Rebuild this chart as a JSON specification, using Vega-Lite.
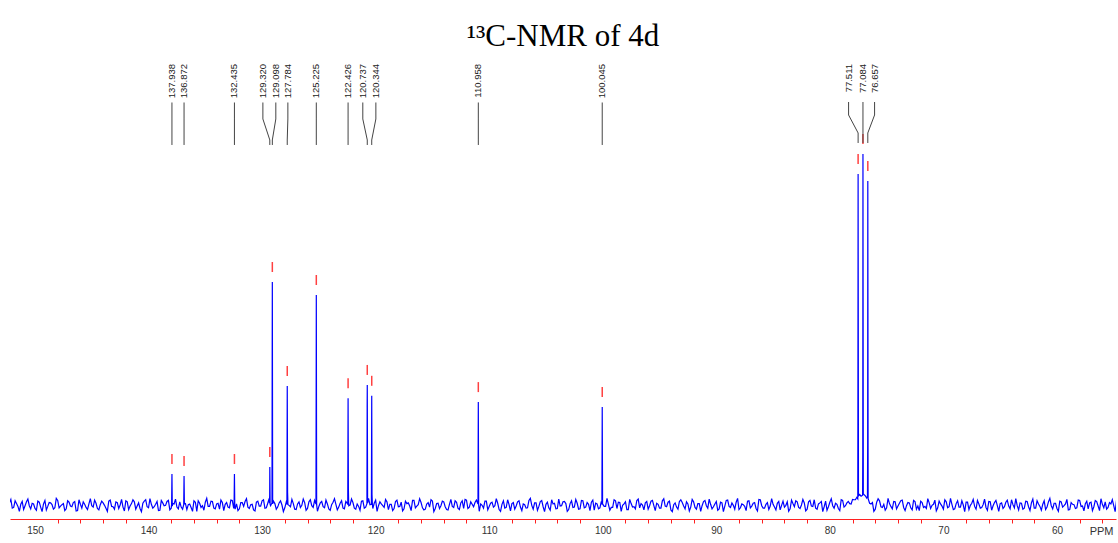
{
  "$schema": "https://vega.github.io/schema/vega-lite/v6.json",
  "width": 1106,
  "height": 459,
  "autosize": {"type": "none"},
  "padding": {"left": 10, "top": 60, "right": 2, "bottom": 24},
  "background": "white",
  "title": {"text": "¹³C-NMR of 4d", "font": "Liberation Serif", "fontSize": 31, "fontWeight": "normal", "color": "black", "anchor": "middle", "offset": 7},
  "config": {"view": {"stroke": null}},
  "resolve": {"axis": {"x": "independent"}},
  "datasets": {
    "peaks": [
      {"ppm": 137.938, "lp": 137.938, "h": 8.86},
      {"ppm": 136.872, "lp": 136.872, "h": 8.29},
      {"ppm": 132.435, "lp": 132.435, "h": 8.86},
      {"ppm": 129.320, "lp": 129.93, "h": 10.86},
      {"ppm": 129.098, "lp": 128.79, "h": 63.71},
      {"ppm": 127.784, "lp": 127.73, "h": 34.0},
      {"ppm": 125.225, "lp": 125.225, "h": 60.0},
      {"ppm": 122.426, "lp": 122.426, "h": 30.5},
      {"ppm": 120.737, "lp": 121.13, "h": 34.3},
      {"ppm": 120.344, "lp": 119.98, "h": 31.2},
      {"ppm": 110.958, "lp": 110.958, "h": 29.4},
      {"ppm": 100.045, "lp": 100.045, "h": 28.0},
      {"ppm": 77.511, "lp": 78.35, "h": 94.6},
      {"ppm": 77.084, "lp": 77.084, "h": 100.3},
      {"ppm": 76.657, "lp": 76.06, "h": 92.6}
    ]
  },
  "layer": [
    {
      "data": {
        "format": {"type": "csv"},
        "values": "p,i\n152.25,0.6\n152,-0.9\n151.75,1.2\n151.5,-0.4\n151.25,0.2\n151,-1.3\n150.75,0.9\n150.5,-0.2\n150.25,0.5\n150,-1.0\n149.75,1.1\n149.5,-0.6\n149.25,0.3\n149,-1.4\n148.75,0.7\n148.5,0.1\n148.25,-0.8\n148,1.3\n147.75,-0.3\n147.5,0.4\n147.25,-1.1\n147,0.8\n146.75,-0.5\n146.5,1.0\n146.25,-1.6\n146,0.2\n145.75,0.9\n145.5,-0.7\n145.25,0.3\n145,-0.2\n144.75,1.4\n144.5,-1.0\n144.25,0.1\n144,0.6\n143.75,-0.9\n143.5,1.1\n143.25,-0.4\n143,-1.2\n142.75,0.7\n142.5,0.0\n142.25,-0.6\n142,1.2\n141.75,-1.3\n141.5,0.4\n141.25,0.9\n141,-0.3\n140.75,-1.0\n140.5,0.5\n140.25,1.5\n140,-0.8\n139.75,0.2\n139.5,-0.5\n139.25,1.0\n139,-1.5\n138.75,0.6\n138.5,-0.1\n138.25,1.3\n138,-0.9\n137.75,0.3\n137.5,-0.6\n137.25,0.9\n137,-1.2\n136.75,0.4\n136.5,0.1\n136.25,-0.7\n136,1.2\n135.75,-1.8\n135.5,0.5\n135.25,-0.2\n135,0.8\n134.75,-0.4\n134.5,1.1\n134.25,-0.9\n134,0.3\n133.75,-1.2\n133.5,0.7\n133.25,0.2\n133,-0.6\n132.75,1.4\n132.5,-1.0\n132.25,0.3\n132,-1.1\n131.75,0.7\n131.5,1.0\n131.25,-0.6\n131,0.1\n130.75,-1.4\n130.5,0.8\n130.25,-0.3\n130,1.2\n129.75,-0.9\n129.5,0.5\n129.25,-0.2\n129,1.1\n128.75,-1.2\n128.5,0.6\n128.25,0.0\n128,-0.8\n127.5,-0.5\n127.25,0.4\n127,-1.3\n126.75,0.9\n126.5,-0.1\n126.25,0.7\n126,-1.0\n125.75,1.5\n125.5,-0.7\n125,-0.4\n124.75,1.0\n124.5,-0.8\n124.25,0.3\n124,-1.5\n123.75,0.8\n123.5,0.2\n123.25,-0.6\n123,1.2\n122.75,-1.1\n122.5,0.5\n122.25,0.0\n122,0.7\n121.75,-1.2\n121.5,-0.4\n121.25,1.1\n121,-0.9\n120.5,0.1\n120.25,-1.0\n120,1.4\n119.75,-0.2\n119.5,0.3\n119.25,-0.7\n119,0.9\n118.75,0.2\n118.5,-1.6\n118.25,1.0\n118,-0.5\n117.75,0.8\n117.5,-1.1\n117.25,0.4\n117,-0.3\n116.75,1.3\n116.5,-0.8\n116.25,0.1\n116,0.7\n115.75,-1.4\n115.5,0.3\n115.25,-0.6\n115,1.1\n114.75,-1.0\n114.5,0.5\n114.25,-0.2\n114,0.9\n113.75,-1.3\n113.5,0.2\n113.25,-0.4\n113,1.2\n112.75,-0.9\n112.5,0.6\n112.25,-1.0\n112,1.4\n111.75,-0.6\n111.5,0.2\n111.25,0.7\n110.75,0.3\n110.5,-0.9\n110.25,1.1\n110,-0.4\n109.75,0.8\n109.5,-0.2\n109.25,0.5\n109,-1.8\n108.75,1.2\n108.5,-0.7\n108.25,0.1\n108,0.4\n107.75,-1.2\n107.5,0.9\n107.25,-0.6\n107,0.3\n106.75,-0.9\n106.5,1.3\n106.25,-0.1\n106,0.6\n105.75,-1.5\n105.5,1.0\n105.25,-0.5\n105,0.2\n104.75,-0.8\n104.5,1.5\n104.25,0.5\n104,-1.0\n103.75,-0.3\n103.5,0.9\n103.25,0.4\n103,-1.3\n102.75,1.2\n102.5,-0.6\n102.25,0.5\n102,-1.1\n101.75,1.2\n101.5,-0.6\n101.25,0.2\n101,0.8\n100.75,-1.5\n100.5,0.3\n100.25,-0.8\n99.75,-0.4\n99.5,0.2\n99.25,-0.7\n99,1.5\n98.75,-1.0\n98.5,0.7\n98.25,-0.1\n98,0.9\n97.75,-1.3\n97.5,0.4\n97.25,-0.5\n97,1.3\n96.75,-0.8\n96.5,0.0\n96.25,0.6\n96,-1.2\n95.75,1.1\n95.5,-0.2\n95.25,0.5\n95,-0.9\n94.75,1.2\n94.5,-0.3\n94.25,0.8\n94,-1.4\n93.75,0.1\n93.5,-0.6\n93.25,1.0\n93,0.7\n92.75,-1.1\n92.5,0.3\n92.25,-0.6\n92,0.9\n91.75,-1.2\n91.5,0.4\n91.25,-0.2\n91,1.3\n90.75,-0.9\n90.5,0.2\n90.25,-0.5\n90,1.0\n89.75,-1.1\n89.5,0.6\n89.25,-0.3\n89,1.4\n88.75,-0.7\n88.5,-0.1\n88.25,0.8\n88,-1.3\n87.75,0.3\n87.5,-0.4\n87.25,1.1\n87,-0.8\n86.75,0.5\n86.5,-1.0\n86.25,1.6\n86,-0.2\n85.75,-0.9\n85.5,0.7\n85.25,-0.3\n85,0.2\n84.75,-1.4\n84.5,1.0\n84.25,-0.1\n84,-0.6\n83.75,0.9\n83.5,-1.1\n83.25,0.4\n83,1.2\n82.75,-0.7\n82.5,0.0\n82.25,0.6\n82,-1.2\n81.75,1.3\n81.5,-0.4\n81.25,-0.9\n81,0.3\n80.75,1.0\n80.5,-0.5\n80.25,-1.5\n80,0.8\n79.75,-0.2\n79.5,0.5\n79.25,-1.0\n79,1.5\n78.75,-0.6\n78.5,0.6\n78.25,0.4\n78,1.6\n77.75,1.5\n77.25,2.5\n77,3.0\n76.75,2.0\n76.5,0.5\n76.25,0.7\n76,-1.2\n75.75,1.8\n75.5,-0.5\n75.25,0.2\n75,-0.8\n74.75,0.4\n74.5,-1.1\n74.25,0.9\n74,-0.3\n73.75,1.2\n73.5,-0.7\n73.25,-0.2\n73,0.6\n72.75,-1.4\n72.5,1.0\n72.25,-0.3\n72,1.1\n71.75,-0.7\n71.5,-1.0\n71.25,0.6\n71,-0.1\n70.75,1.4\n70.5,-0.8\n70.25,0.3\n70,-1.2\n69.75,0.9\n69.5,-0.5\n69.25,0.2\n69,-1.1\n68.75,1.2\n68.5,-0.6\n68.25,0.0\n68,0.8\n67.75,-1.3\n67.5,0.5\n67.25,-0.4\n67,1.3\n66.75,-0.9\n66.5,0.1\n66.25,-0.7\n66,1.0\n65.75,-1.5\n65.5,0.7\n65.25,-0.2\n65,0.4\n64.75,-1.0\n64.5,0.8\n64.25,-0.3\n64,1.5\n63.75,-0.8\n63.5,-0.2\n63.25,0.6\n63,-1.2\n62.75,1.1\n62.5,-0.5\n62.25,0.6\n62,-0.9\n61.75,1.2\n61.5,-0.4\n61.25,0.2\n61,-1.3\n60.75,0.9\n60.5,-0.2\n60.25,0.5\n60,-1.0\n59.75,1.1\n59.5,-0.6\n59.25,0.3\n59,-1.4\n58.75,0.7\n58.5,0.1\n58.25,-0.8\n58,1.3\n57.75,-0.3\n57.5,0.4\n57.25,-1.1\n57,0.8\n56.75,-0.5\n56.5,1.0\n56.25,-1.6\n56,0.2\n55.75,0.9\n55.5,-0.7\n55.25,0.3\n55,-0.2\n54.75,1.4\n152.125,1.6\n151.875,-0.7\n151.625,0.4\n151.375,-1.8\n151.125,1.0\n150.875,-0.2\n150.625,1.7\n150.375,-1.1\n150.125,0.3\n149.875,-1.5\n149.625,0.8\n149.375,-1.9\n149.125,1.3\n148.875,-0.4\n148.625,0.6\n148.375,-1.2\n148.125,1.9\n147.875,-0.8\n147.625,0.1\n147.375,-1.6\n147.125,1.2\n146.875,-0.3\n146.625,0.7\n146.375,-1.7\n146.125,1.5\n145.875,-0.9\n145.625,0.2\n145.375,-1.3\n145.125,1.8\n144.875,-0.6\n144.625,0.5\n144.375,-1.4\n144.125,1.1\n143.875,-0.1\n143.625,-1.8\n143.375,1.4\n143.125,-0.5\n142.875,0.9\n142.625,-1.0\n142.375,1.6\n142.125,-1.7\n141.875,0.9\n141.625,-0.3\n141.375,1.5\n141.125,-1.2\n140.875,0.6\n140.625,-1.9\n140.375,1.1\n140.125,-0.5\n139.875,1.8\n139.625,-0.9\n139.375,0.2\n139.125,-1.6\n138.875,1.3\n138.625,-0.2\n138.375,1.0\n138.125,-1.4\n137.875,0.4\n137.625,1.7\n137.375,-1.1\n137.125,-0.6\n136.625,-1.3\n136.375,0.3\n136.125,-1.8\n135.875,0.8\n135.625,1.2\n135.375,-0.7\n135.125,-1.5\n134.875,1.9\n134.625,-0.4\n134.375,1.0\n134.125,-1.1\n133.875,0.5\n133.625,1.4\n133.375,-1.6\n133.125,0.7\n132.875,-0.8\n132.625,1.3\n132.375,-1.2\n132.125,-1.6\n131.875,0.7\n131.625,-0.4\n131.375,1.8\n131.125,-1.0\n130.875,0.2\n130.625,-1.7\n130.375,1.1\n130.125,-0.3\n129.875,1.5\n129.625,-0.8\n129.375,1.9\n128.875,0.4\n128.625,-0.6\n128.375,1.2\n128.125,-1.9\n127.875,0.8\n127.625,-0.1\n127.375,1.6\n127.125,-1.2\n126.875,0.3\n126.625,-0.7\n126.375,1.7\n126.125,-1.5\n125.875,0.9\n125.625,-0.2\n125.375,1.3\n125.125,-1.8\n124.875,0.6\n124.625,-0.5\n124.375,1.4\n124.125,-1.1\n123.875,0.1\n123.625,1.8\n123.375,-1.4\n123.125,0.5\n122.875,-0.9\n122.625,1.0\n122.125,1.7\n121.875,-0.9\n121.625,0.3\n121.375,-1.5\n121.125,1.2\n120.875,-0.6\n120.625,1.9\n120.125,0.5\n119.875,-1.8\n119.625,0.9\n119.375,-0.2\n119.125,1.6\n118.875,-1.3\n118.625,0.2\n118.375,-1.0\n118.125,1.4\n117.875,-0.4\n117.625,-1.7\n117.375,1.1\n117.125,0.6\n116.875,-1.6\n116.625,1.3\n116.375,-0.3\n116.125,1.8\n115.875,-0.8\n115.625,-1.2\n115.375,0.7\n115.125,1.5\n114.875,-1.9\n114.625,0.4\n114.375,-1.0\n114.125,1.1\n113.875,-0.5\n113.625,-1.4\n113.375,1.6\n113.125,-0.7\n112.875,0.8\n112.625,-1.3\n112.375,1.2\n112.125,1.6\n111.875,-1.0\n111.625,0.9\n111.375,-0.5\n111.125,1.4\n110.875,-1.8\n110.625,-0.1\n110.375,1.1\n110.125,-1.4\n109.875,0.5\n109.625,-0.6\n109.375,1.8\n109.125,-1.3\n108.875,0.2\n108.625,-0.9\n108.375,1.5\n108.125,-1.7\n107.875,0.7\n107.625,-0.3\n107.375,1.2\n107.125,-1.6\n106.875,0.1\n106.625,-0.8\n106.375,1.9\n106.125,-1.2\n105.875,0.6\n105.625,-0.4\n105.375,1.3\n105.125,-1.9\n104.875,0.8\n104.625,-1.5\n104.375,0.3\n104.125,-1.1\n103.875,1.7\n103.625,-0.2\n103.375,1.0\n103.125,-1.8\n102.875,0.4\n102.625,-0.7\n102.375,1.6\n102.125,-1.2\n101.875,1.3\n101.625,-0.8\n101.375,0.7\n101.125,-1.6\n100.875,1.4\n100.625,0.5\n100.375,-1.1\n100.125,1.0\n99.875,-0.4\n99.625,1.9\n99.375,-1.5\n99.125,-0.7\n98.875,1.2\n98.625,0.8\n98.375,-1.8\n98.125,0.3\n97.875,-1.3\n97.625,1.6\n97.375,-0.6\n97.125,-1.1\n96.875,1.7\n96.625,0.4\n96.375,-1.4\n96.125,1.0\n95.875,-0.2\n95.625,1.3\n95.375,-1.6\n95.125,0.2\n94.875,-0.9\n94.625,1.8\n94.375,-0.5\n94.125,1.1\n93.875,-1.9\n93.625,0.6\n93.375,-1.2\n93.125,1.5\n92.875,-0.3\n92.625,0.9\n92.375,-1.7\n92.125,1.6\n91.875,-0.7\n91.625,0.4\n91.375,-1.8\n91.125,1.0\n90.875,-0.2\n90.625,1.7\n90.375,-1.1\n90.125,0.3\n89.875,-1.5\n89.625,0.8\n89.375,-1.9\n89.125,1.3\n88.875,-0.4\n88.625,0.6\n88.375,-1.2\n88.125,1.9\n87.875,-0.8\n87.625,0.1\n87.375,-1.6\n87.125,1.2\n86.875,-0.3\n86.625,0.7\n86.375,-1.7\n86.125,1.5\n85.875,-0.9\n85.625,0.2\n85.375,-1.3\n85.125,1.8\n84.875,-0.6\n84.625,0.5\n84.375,-1.4\n84.125,1.1\n83.875,-0.1\n83.625,-1.8\n83.375,1.4\n83.125,-0.5\n82.875,0.9\n82.625,-1.0\n82.375,1.6\n82.125,-1.7\n81.875,0.9\n81.625,-0.3\n81.375,1.5\n81.125,-1.2\n80.875,0.6\n80.625,-1.9\n80.375,1.1\n80.125,-0.5\n79.875,1.8\n79.625,-0.9\n79.375,0.2\n79.125,-1.6\n78.875,1.3\n78.625,-0.2\n78.375,1.0\n78.125,0.3\n77.875,1.5\n77.625,2.2\n77.375,3.0\n76.875,2.6\n76.375,0.3\n76.125,-1.8\n75.875,0.8\n75.625,1.2\n75.375,-0.7\n75.125,-1.5\n74.875,1.9\n74.625,-0.4\n74.375,1.0\n74.125,-1.1\n73.875,0.5\n73.625,1.4\n73.375,-1.6\n73.125,0.7\n72.875,-0.8\n72.625,1.3\n72.375,-1.2\n72.125,-1.6\n71.875,0.7\n71.625,-0.4\n71.375,1.8\n71.125,-1.0\n70.875,0.2\n70.625,-1.7\n70.375,1.1\n70.125,-0.3\n69.875,1.5\n69.625,-0.8\n69.375,1.9\n69.125,-1.3\n68.875,0.4\n68.625,-0.6\n68.375,1.2\n68.125,-1.9\n67.875,0.8\n67.625,-0.1\n67.375,1.6\n67.125,-1.2\n66.875,0.3\n66.625,-0.7\n66.375,1.7\n66.125,-1.5\n65.875,0.9\n65.625,-0.2\n65.375,1.3\n65.125,-1.8\n64.875,0.6\n64.625,-0.5\n64.375,1.4\n64.125,-1.1\n63.875,0.1\n63.625,1.8\n63.375,-1.4\n63.125,0.5\n62.875,-0.9\n62.625,1.0\n62.375,-1.6\n62.125,1.7\n61.875,-0.9\n61.625,0.3\n61.375,-1.5\n61.125,1.2\n60.875,-0.6\n60.625,1.9\n60.375,-1.1\n60.125,0.5\n59.875,-1.8\n59.625,0.9\n59.375,-0.2\n59.125,1.6\n58.875,-1.3\n58.625,0.2\n58.375,-1.0\n58.125,1.4\n57.875,-0.4\n57.625,-1.7\n57.375,1.1\n57.125,0.6\n56.875,-1.6\n56.625,1.3\n56.375,-0.3\n56.125,1.8\n55.875,-0.8\n55.625,-1.2\n55.375,0.7\n55.125,1.5\n54.875,-1.9\n137.968,0.2\n137.938,8.86\n137.908,-0.3\n136.902,0.1\n136.872,8.29\n136.842,0.3\n132.465,0.4\n132.435,8.86\n132.405,-0.2\n129.35,0.5\n129.33,3.0\n129.32,10.86\n129.29,0.2\n129.128,0.6\n129.11,42\n129.098,63.71\n129.068,0.3\n127.814,0.2\n127.784,34.0\n127.754,3.6\n127.72,0.1\n125.255,0.3\n125.235,39.4\n125.225,60.0\n125.195,0.1\n122.456,0.1\n122.426,30.5\n122.40,4.5\n122.37,-0.2\n120.767,0.4\n120.747,28\n120.737,34.3\n120.707,0.5\n120.374,0.2\n120.344,31.2\n120.32,3.0\n120.29,0.4\n110.988,0.3\n110.958,29.4\n110.928,-0.1\n100.075,0.2\n100.045,28.0\n100.015,0.3\n77.541,1.8\n77.53,22.9\n77.511,94.6\n77.48,2.6\n77.114,2.8\n77.10,15\n77.084,100.3\n77.054,3.2\n76.687,2.4\n76.67,17\n76.657,92.6\n76.627,1.8\n"
      },
      "mark": {"type": "line", "color": "#0000ff", "strokeWidth": 1.2, "clip": true},
      "encoding": {
        "x": {
          "field": "p", "type": "quantitative",
          "scale": {"domain": [54.8, 152.2], "reverse": true, "nice": false, "zero": false},
          "axis": {
            "title": "PPM",
            "values": [150, 148, 146, 144, 142, 140, 138, 136, 134, 132, 130, 128, 126, 124, 122, 120, 118, 116, 114, 112, 110, 108, 106, 104, 102, 100, 98, 96, 94, 92, 90, 88, 86, 84, 82, 80, 78, 76, 74, 72, 70, 68, 66, 64, 62, 60, 58, 56],
            "labelExpr": "datum.value % 10 === 0 ? datum.label : ''",
            "tickOpacity": {"condition": {"test": "datum.value % 10 === 0", "value": 0}, "value": 1},
            "grid": false,
            "domainColor": "#ff2020",
            "tickColor": "#ff2020",
            "tickSize": 4,
            "labelFont": "Liberation Sans",
            "labelFontSize": 10,
            "labelColor": "#333333",
            "labelPadding": 2,
            "labelFlush": false,
            "labelOverlap": false,
            "titleFont": "Liberation Sans",
            "titleFontSize": 11,
            "titleFontWeight": "normal",
            "titleColor": "#333333",
            "titleX": 1103,
            "titleY": 12,
            "titleAlign": "right",
            "titleBaseline": "middle"
          }
        },
        "y": {"field": "i", "type": "quantitative", "scale": {"domain": [-4, 127.14], "nice": false, "zero": false}, "axis": null}
      }
    },
    {
      "data": {"name": "peaks"},
      "mark": {"type": "rule", "color": "#ff4040", "strokeWidth": 1.5, "yOffset": -20, "y2Offset": -10},
      "encoding": {
        "x": {"field": "ppm", "type": "quantitative", "axis": null, "scale": {"domain": [54.8, 152.2], "reverse": true, "nice": false, "zero": false}},
        "y": {"field": "h", "type": "quantitative", "scale": {"domain": [-4, 127.14], "nice": false, "zero": false}, "axis": null},
        "y2": {"field": "h"}
      }
    },
    {
      "data": {"name": "peaks"},
      "transform": [{"filter": "datum.ppm > 90"}],
      "mark": {"type": "rule", "color": "#444444", "strokeWidth": 1},
      "encoding": {
        "x": {"field": "lp", "type": "quantitative", "axis": null, "scale": {"domain": [54.8, 152.2], "reverse": true, "nice": false, "zero": false}},
        "y": {"datum": 115.0, "type": "quantitative", "scale": {"domain": [-4, 127.14], "nice": false, "zero": false}, "axis": null},
        "y2": {"datum": 110.29}
      }
    },
    {
      "data": {"name": "peaks"},
      "transform": [{"filter": "datum.ppm > 90"}],
      "mark": {"type": "rule", "color": "#444444", "strokeWidth": 1},
      "encoding": {
        "x": {"field": "lp", "type": "quantitative", "axis": null, "scale": {"domain": [54.8, 152.2], "reverse": true, "nice": false, "zero": false}},
        "x2": {"field": "ppm"},
        "y": {"datum": 110.29, "type": "quantitative", "scale": {"domain": [-4, 127.14], "nice": false, "zero": false}, "axis": null},
        "y2": {"datum": 104.29}
      }
    },
    {
      "data": {"name": "peaks"},
      "transform": [{"filter": "datum.ppm > 90"}],
      "mark": {"type": "rule", "color": "#444444", "strokeWidth": 1},
      "encoding": {
        "x": {"field": "ppm", "type": "quantitative", "axis": null, "scale": {"domain": [54.8, 152.2], "reverse": true, "nice": false, "zero": false}},
        "y": {"datum": 104.29, "type": "quantitative", "scale": {"domain": [-4, 127.14], "nice": false, "zero": false}, "axis": null},
        "y2": {"datum": 102.86}
      }
    },
    {
      "data": {"name": "peaks"},
      "transform": [{"filter": "datum.ppm < 90"}],
      "mark": {"type": "rule", "color": "#444444", "strokeWidth": 1},
      "encoding": {
        "x": {"field": "lp", "type": "quantitative", "axis": null, "scale": {"domain": [54.8, 152.2], "reverse": true, "nice": false, "zero": false}},
        "y": {"datum": 115.14, "type": "quantitative", "scale": {"domain": [-4, 127.14], "nice": false, "zero": false}, "axis": null},
        "y2": {"datum": 111.43}
      }
    },
    {
      "data": {"name": "peaks"},
      "transform": [{"filter": "datum.ppm < 90"}],
      "mark": {"type": "rule", "color": "#444444", "strokeWidth": 1},
      "encoding": {
        "x": {"field": "lp", "type": "quantitative", "axis": null, "scale": {"domain": [54.8, 152.2], "reverse": true, "nice": false, "zero": false}},
        "x2": {"field": "ppm"},
        "y": {"datum": 111.43, "type": "quantitative", "scale": {"domain": [-4, 127.14], "nice": false, "zero": false}, "axis": null},
        "y2": {"datum": 106.29}
      }
    },
    {
      "data": {"name": "peaks"},
      "transform": [{"filter": "datum.ppm < 90"}],
      "mark": {"type": "rule", "color": "#444444", "strokeWidth": 1},
      "encoding": {
        "x": {"field": "ppm", "type": "quantitative", "axis": null, "scale": {"domain": [54.8, 152.2], "reverse": true, "nice": false, "zero": false}},
        "y": {"datum": 106.29, "type": "quantitative", "scale": {"domain": [-4, 127.14], "nice": false, "zero": false}, "axis": null},
        "y2": {"datum": 103.43}
      }
    },
    {
      "data": {"name": "peaks"},
      "mark": {"type": "text", "angle": 270, "align": "right", "baseline": "middle", "font": "Liberation Sans", "fontSize": 9.5, "color": "#222222"},
      "encoding": {
        "x": {"field": "lp", "type": "quantitative", "axis": null, "scale": {"domain": [54.8, 152.2], "reverse": true, "nice": false, "zero": false}},
        "y": {"datum": 126.0, "type": "quantitative", "scale": {"domain": [-4, 127.14], "nice": false, "zero": false}, "axis": null},
        "text": {"field": "ppm", "type": "quantitative", "format": ".3f"}
      }
    }
  ]
}
